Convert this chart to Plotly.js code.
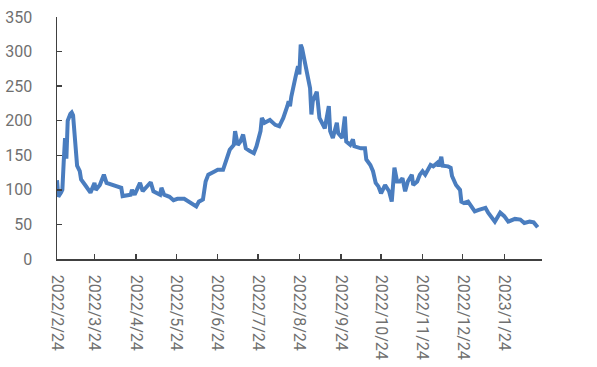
<!DOCTYPE html>
<html>
<head>
<meta charset="utf-8">
<script src="https://cdn.plot.ly/plotly-3.0.1.min.js"></script>
<style>
html,body{margin:0;padding:0;background:#fff;}
#chart{width:597px;height:367px;}
</style>
</head>
<body>
<div id="chart"></div>
<script>
const dates = [
"2022-02-24","2022-02-25","2022-02-27","2022-02-28","2022-03-01","2022-03-02","2022-03-03","2022-03-04",
"2022-03-06","2022-03-07","2022-03-08","2022-03-09","2022-03-11","2022-03-13","2022-03-14","2022-03-17",
"2022-03-20","2022-03-21","2022-03-24","2022-03-25","2022-03-28","2022-03-31","2022-04-02","2022-04-06",
"2022-04-13","2022-04-14","2022-04-20","2022-04-21","2022-04-23","2022-04-27","2022-04-29","2022-05-05",
"2022-05-07","2022-05-12","2022-05-13","2022-05-15","2022-05-19","2022-05-22","2022-05-25","2022-05-30",
"2022-06-04","2022-06-08","2022-06-10","2022-06-13","2022-06-15","2022-06-17","2022-06-22","2022-06-24",
"2022-06-28","2022-07-01","2022-07-03","2022-07-06","2022-07-07","2022-07-09","2022-07-11","2022-07-13",
"2022-07-15","2022-07-18","2022-07-21","2022-07-23","2022-07-26","2022-07-27","2022-07-29","2022-08-02",
"2022-08-06","2022-08-09","2022-08-12","2022-08-15","2022-08-16","2022-08-17","2022-08-18","2022-08-21",
"2022-08-23","2022-08-24","2022-08-25","2022-08-26","2022-08-28","2022-08-31","2022-09-01","2022-09-02",
"2022-09-03","2022-09-06","2022-09-07","2022-09-08","2022-09-12","2022-09-15","2022-09-16","2022-09-18",
"2022-09-21","2022-09-22","2022-09-25","2022-09-27","2022-09-28","2022-10-01","2022-10-03","2022-10-04",
"2022-10-09","2022-10-12","2022-10-13","2022-10-16","2022-10-18","2022-10-20","2022-10-22","2022-10-24",
"2022-10-27","2022-10-30","2022-11-01","2022-11-03","2022-11-05","2022-11-07","2022-11-09","2022-11-11",
"2022-11-13","2022-11-16","2022-11-17","2022-11-20","2022-11-22","2022-11-24","2022-11-26","2022-11-30",
"2022-12-02","2022-12-05","2022-12-06","2022-12-08","2022-12-09","2022-12-13","2022-12-15","2022-12-16",
"2022-12-19","2022-12-22","2022-12-23","2022-12-25","2022-12-28","2022-12-31","2023-01-02","2023-01-05",
"2023-01-10","2023-01-12","2023-01-17","2023-01-21","2023-01-24","2023-01-27","2023-02-01","2023-02-05",
"2023-02-08","2023-02-12","2023-02-15","2023-02-18"
];
const values = [
114,90,96,100,140,175,145,200,
210,212,208,185,135,127,115,107,
100,96,110,100,107,122,110,107,
103,91,93,100,93,110,98,111,
98,93,103,93,90,85,87,87,
81,76,83,86,112,122,127,129,
129,144,158,165,185,165,170,180,
160,156,153,163,185,204,197,201,
194,192,204,221,228,221,235,262,
279,267,310,305,286,262,247,209,
228,242,228,204,189,221,185,175,
197,182,175,206,170,165,173,163,
160,160,144,136,127,110,105,95,
107,98,83,132,112,112,117,98,
112,122,107,112,122,127,122,136,
134,139,134,148,135,134,132,120,
107,100,83,81,83,74,69,71,
74,67,54,67,62,54,58,57,
52,54,53,46
];
const tickDates = ["2022-02-24","2022-03-24","2022-04-24","2022-05-24","2022-06-24","2022-07-24",
"2022-08-24","2022-09-24","2022-10-24","2022-11-24","2022-12-24","2023-01-24"];
const tickLabels = ["2022/2/24","2022/3/24","2022/4/24","2022/5/24","2022/6/24","2022/7/24",
"2022/8/24","2022/9/24","2022/10/24","2022/11/24","2022/12/24","2023/1/24"];
const yTicks = [0,50,100,150,200,250,300,350];

const tickFont = {family: "Roboto, 'Liberation Sans', sans-serif", size: 16, color: "#707070"};

Plotly.newPlot("chart", [{
  type: "scatter",
  mode: "lines",
  x: dates,
  y: values,
  line: {color: "#4a7dbf", width: 4},
  hoverinfo: "skip"
}], {
  width: 597,
  height: 367,
  margin: {l: 57, r: 55, t: 17, b: 108, pad: 0},
  paper_bgcolor: "#ffffff",
  plot_bgcolor: "#ffffff",
  showlegend: false,
  xaxis: {
    type: "date",
    range: ["2022-02-24", "2023-02-21 05:00"],
    tickvals: tickDates,
    ticktext: tickLabels,
    tickangle: 90,
    ticks: "inside",
    ticklen: 5,
    tickwidth: 1.3,
    tickcolor: "#404040",
    showline: true,
    linecolor: "#404040",
    linewidth: 1.5,
    showgrid: false,
    zeroline: false,
    tickfont: tickFont,
    ticklabelstandoff: 11
  },
  yaxis: {
    range: [0, 350],
    tickvals: yTicks,
    ticks: "inside",
    ticklen: 5,
    tickwidth: 1.3,
    tickcolor: "#404040",
    showline: true,
    linecolor: "#404040",
    linewidth: 1.5,
    showgrid: false,
    zeroline: false,
    tickfont: tickFont,
    ticklabelstandoff: 20
  }
}, {staticPlot: true, displayModeBar: false});
</script>
</body>
</html>
